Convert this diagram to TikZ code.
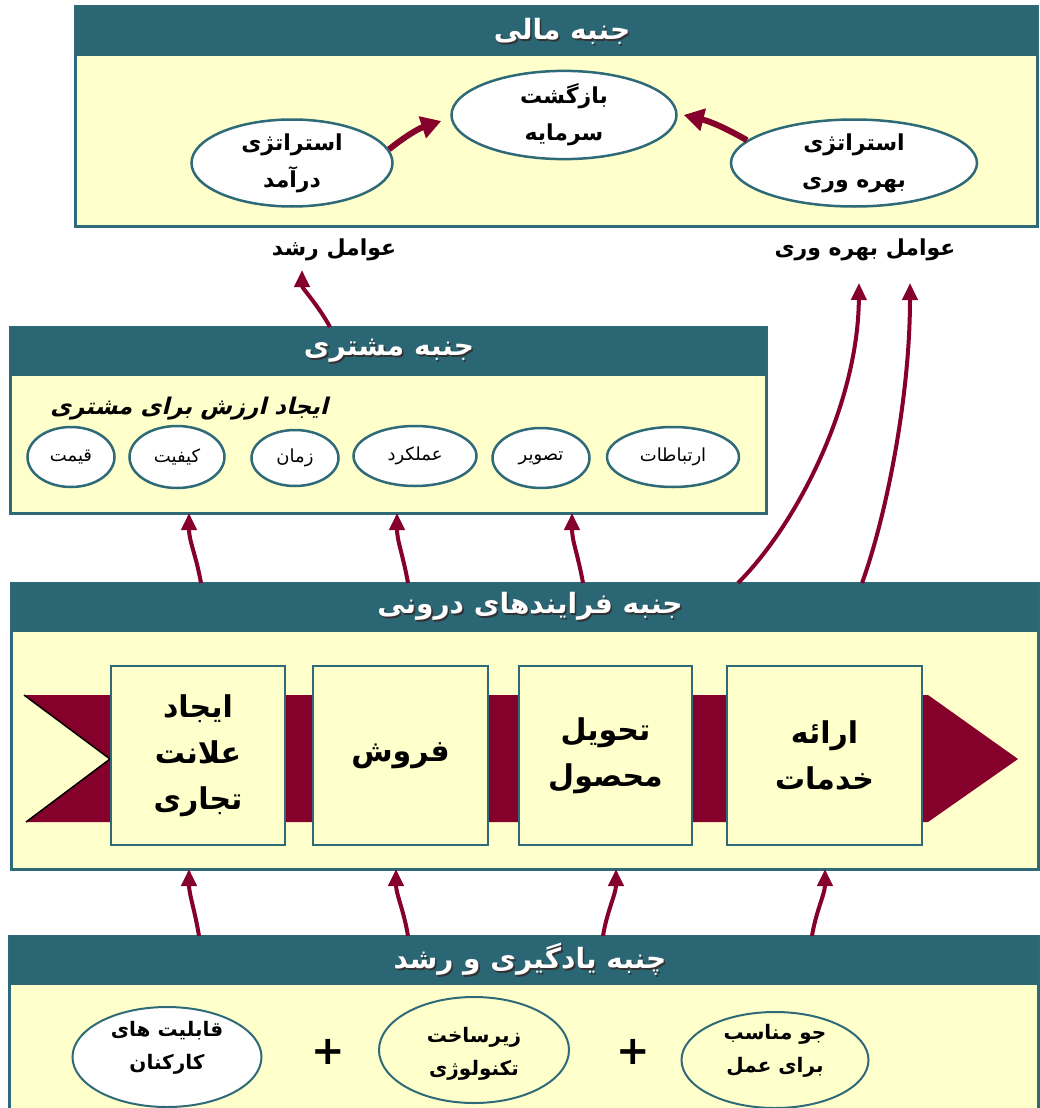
\documentclass[tikz,border=0pt]{standalone}
\usepackage{fontspec}
\usetikzlibrary{shapes.geometric,arrows.meta}
\TeXXeTstate=1
\newfontfamily\arabicfont[Script=Arabic]{DejaVu Sans}
\newfontfamily\arabicsl[Script=Arabic,BoldFeatures={FakeSlant=0.25}]{DejaVu Sans}
\newcommand{\fa}[1]{\beginR #1\endR}
\newcommand{\shtext}[1]{\rlap{\kern1.6pt\raisebox{-1.6pt}{\textcolor{black!80}{\fa{#1}}}}\fa{#1}}
\newcommand{\twol}[3]{\raisebox{#3}[0pt][0pt]{\begin{tabular}{@{}c@{}}#1\\#2\end{tabular}}}
\definecolor{headC}{HTML}{2B6675}
\definecolor{frameC}{HTML}{2F6A78}
\definecolor{creamC}{HTML}{FFFFCC}
\definecolor{maroonC}{HTML}{85002A}
\begin{document}
\begin{tikzpicture}[x=1pt,y=1pt,
 panel/.style={draw=frameC,line width=3pt,fill=creamC,anchor=north west,inner sep=0pt,outer sep=0pt},
 headbar/.style={fill=headC,anchor=north west,inner sep=0pt,outer sep=0pt},
 htitle/.style={text=white,font=\arabicfont\bfseries\fontsize{28}{32}\selectfont,inner sep=0pt},
 bigell/.style={ellipse,draw=frameC,line width=2.5pt,fill=white,inner sep=0pt,align=center,font=\arabicfont\bfseries\fontsize{22}{37}\selectfont},
 smell/.style={ellipse,draw=frameC,line width=2.5pt,fill=white,inner sep=0pt,font=\arabicfont\fontsize{18}{20}\selectfont,minimum height=60pt},
 lrnell/.style={ellipse,draw=frameC,line width=2pt,inner sep=0pt,font=\arabicfont\bfseries\fontsize{20}{33}\selectfont},
 pbox/.style={rectangle,draw=frameC,line width=2.5pt,fill=creamC,inner sep=0pt,align=center,minimum height=179pt,font=\arabicfont\bfseries\fontsize{30}{46}\selectfont},
 lbl/.style={font=\arabicfont\bfseries\fontsize{22}{26}\selectfont,inner sep=0pt},
 arr/.style={draw=maroonC,line width=4pt,-{Triangle[width=15pt,length=17pt]}},
 farr/.style={draw=maroonC,line width=6pt,-{Triangle[width=22pt,length=20pt]}},
 plus/.style={font=\arabicfont\bfseries\fontsize{40}{40}\selectfont,inner sep=0pt}
]
\useasboundingbox (0,0) rectangle (1039,-1108);
\fill[white] (0,0) rectangle (1039,-1108);

% ---------- financial ----------
\node[panel,minimum width=962pt,minimum height=219pt] (fin) at (75,-7) {};
\node[headbar,minimum width=962pt,minimum height=49pt] (finH) at (75,-7) {};
\node[htitle] (finT) at (562,-32) {\shtext{جنبه مالی}};
\node[bigell,minimum width=201pt,minimum height=87pt] (rev) at (292,-163) {\fa{استراتژی}\\\fa{درآمد}};
\node[bigell,minimum width=225pt,minimum height=86pt] (roi) at (564,-115) {\fa{بازگشت}\\\fa{سرمایه}};
\node[bigell,minimum width=246pt,minimum height=87pt] (prod) at (854,-163) {\fa{استراتژی}\\\fa{بهره وری}};
\draw[farr] (rev.8) to[bend left=10] ([shift={(-9pt,-6pt)}]roi.west);
\draw[farr] (prod.168) to[bend right=8] ([xshift=6pt]roi.east);

\node[lbl] (growth) at (334,-250) {\fa{عوامل رشد}};
\node[lbl] (prodF) at (865,-250) {\fa{عوامل بهره وری}};
\coordinate (g1) at (302,-270);
\coordinate (p1) at (859,-283);
\coordinate (p2) at (910,-283);

% ---------- customer ----------
\node[panel,minimum width=756pt,minimum height=186pt] (cust) at (10,-327) {};
\node[headbar,minimum width=756pt,minimum height=49pt] (custH) at (10,-327) {};
\node[htitle] (custT) at (389,-352) {\shtext{جنبه مشتری}};
\node[font=\arabicsl\bfseries\fontsize{23}{26}\selectfont,inner sep=0pt] (custSub) at (189,-409) {\fa{ایجاد ارزش برای مشتری}};
\node[smell,minimum width=87pt] (price) at (71,-457) {\fa{قیمت}};
\node[smell,minimum width=95pt,minimum height=62pt] (qual) at (177,-457) {\fa{کیفیت}};
\node[smell,minimum width=87pt,minimum height=56pt] (time) at (295,-458) {\fa{زمان}};
\node[smell,minimum width=123pt] (perf) at (415,-456) {\fa{عملکرد}};
\node[smell,minimum width=97pt] (image) at (541,-458) {\fa{تصویر}};
\node[smell,minimum width=132pt] (comm) at (673,-457) {\fa{ارتباطات}};

% ---------- internal processes ----------
\node[panel,minimum width=1027pt,minimum height=286pt] (proc) at (11,-583) {};
\node[headbar,minimum width=1027pt,minimum height=49pt] (procH) at (11,-583) {};
\node[htitle] (procT) at (530,-607) {\shtext{جنبه فرایندهای درونی}};
\fill[maroonC] (24,-695) -- (928,-695) -- (1018,-759) -- (928,-822) -- (26,-822) -- (110,-759) -- cycle;
\draw[black,line width=1.5pt] (24,-695) -- (110,-759) -- (26,-822);
\node[pbox,minimum width=174pt] (brand) at (198,-755.5) {\fa{ایجاد}\\\fa{علانت}\\\fa{تجاری}};
\node[pbox,minimum width=175pt] (sales) at (400.5,-755.5) {\fa{فروش}};
\node[pbox,minimum width=173pt] (deliv) at (605.5,-755.5) {\fa{تحویل}\\\fa{محصول}};
\node[pbox,minimum width=195pt] (serv) at (824.5,-755.5) {\fa{ارائه}\\\fa{خدمات}};

% ---------- learning ----------
\node[panel,minimum width=1029pt,minimum height=176pt] (lrn) at (9,-936) {};
\node[headbar,minimum width=1029pt,minimum height=49pt] (lrnH) at (9,-936) {};
\node[htitle] (lrnT) at (530,-960) {\shtext{چنبه یادگیری و رشد}};
\node[lrnell,fill=white,minimum width=189pt,minimum height=100pt] (skills) at (167,-1057) {\twol{\fa{قابلیت های}}{\fa{کارکنان}}{5pt}};
\node[lrnell,fill=creamC,minimum width=190pt,minimum height=106pt] (tech) at (474,-1050) {\twol{\fa{زیرساخت}}{\fa{تکنولوژی}}{-8pt}};
\node[lrnell,fill=creamC,minimum width=187pt,minimum height=96pt] (clim) at (775,-1060) {\twol{\fa{جو مناسب}}{\fa{برای عمل}}{5pt}};
\node[plus] (plus1) at (328,-1052) {+};
\node[plus] (plus2) at (633,-1052) {+};

% ---------- arrows ----------
\draw[arr] ([xshift=190pt]lrnH.north west) .. controls +(-4,25) and +(0,-25) .. ([xshift=178pt]proc.south west);
\draw[arr] ([xshift=399pt]lrnH.north west) .. controls +(-4,25) and +(0,-25) .. ([xshift=385pt]proc.south west);
\draw[arr] ([xshift=594pt]lrnH.north west) .. controls +(4,25) and +(0,-25) .. ([xshift=605pt]proc.south west);
\draw[arr] ([xshift=803pt]lrnH.north west) .. controls +(4,25) and +(0,-25) .. ([xshift=814pt]proc.south west);

\draw[arr] ([xshift=190pt]procH.north west) .. controls +(-5,28) and +(0,-28) .. ([xshift=179pt]cust.south west);
\draw[arr] ([xshift=397pt]procH.north west) .. controls +(-5,28) and +(0,-28) .. ([xshift=387pt]cust.south west);
\draw[arr] ([xshift=572pt]procH.north west) .. controls +(-5,28) and +(0,-28) .. ([xshift=562pt]cust.south west);

\draw[arr] ([xshift=727pt]procH.north west) .. controls +(60,60) and +(-1,-120) .. (p1);
\draw[arr] ([xshift=851pt]procH.north west) .. controls +(23,63) and +(0,-117) .. (p2);
\draw[arr] ([xshift=320pt]custH.north west) .. controls +(-12,22) and +(0,-18) .. (g1);
\end{tikzpicture}
\end{document}
